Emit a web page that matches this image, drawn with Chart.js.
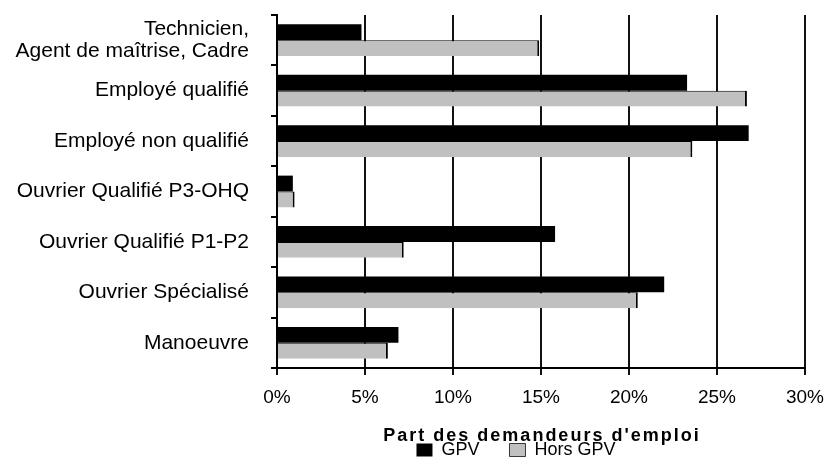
<!DOCTYPE html>
<html lang="fr">
<head>
  <meta charset="UTF-8" />
  <title>Part des demandeurs d'emploi</title>
  <script src="https://cdn.jsdelivr.net/npm/chart.js"></script>
  <style>
    body { margin: 0; background: #fff; }
    .wrap { width: 826px; height: 459px; }
  </style>
</head>
<body>
  <div class="wrap"><canvas id="chart" width="826" height="459"></canvas></div>

  <script>
    const categories = [
      ['Technicien,', 'Agent de maîtrise, Cadre'],
      'Employé qualifié',
      'Employé non qualifié',
      'Ouvrier Qualifié P3-OHQ',
      'Ouvrier Qualifié P1-P2',
      'Ouvrier Spécialisé',
      'Manoeuvre'
    ];
    const gpv = [4.8, 23.3, 26.8, 0.9, 15.8, 22.0, 6.9];
    const horsGpv = [14.9, 26.7, 23.6, 1.0, 7.2, 20.5, 6.3];
    const seriesNames = ['GPV', 'Hors GPV'];
    const axisTitle = "Part des demandeurs d'emploi";

    Chart.defaults.font.family = "'Liberation Sans', Arial, sans-serif";
    Chart.defaults.color = '#000';

    // x axis title drawn with letter spacing, like the original
    const spacedTitle = {
      id: 'spacedTitle',
      afterLayout(chart) {
        // legend sits a bit left of the plot centre in the original
        chart.legend.left -= 25;
        chart.legend.right -= 25;
      },
      afterDraw(chart) {
        const { ctx, chartArea } = chart;
        ctx.save();
        ctx.font = "bold 18px 'Liberation Sans', Arial, sans-serif";
        ctx.fillStyle = '#000';
        ctx.textAlign = 'center';
        ctx.textBaseline = 'alphabetic';
        ctx.letterSpacing = '2px';
        ctx.fillText(axisTitle, (chartArea.left + chartArea.right) / 2 + 1, 441);
        ctx.restore();
      }
    };

    new Chart(document.getElementById('chart'), {
      type: 'bar',
      data: {
        labels: categories,
        datasets: [
          {
            label: seriesNames[0],
            data: gpv,
            backgroundColor: '#000',
            borderWidth: 0
          },
          {
            label: seriesNames[1],
            data: horsGpv,
            backgroundColor: '#c0c0c0',
            borderColor: '#000',
            borderWidth: { top: 1, right: 2, bottom: 0, left: 0 },
            borderSkipped: false
          }
        ]
      },
      options: {
        indexAxis: 'y',
        responsive: false,
        animation: false,
        categoryPercentage: 0.63,
        barPercentage: 1.0,
        layout: { padding: { left: 0, right: 21, top: 15, bottom: -10 } },
        plugins: {
          legend: {
            position: 'bottom',
            fullSize: false,
            labels: {
              boxWidth: 16,
              boxHeight: 13,
              padding: 30,
              font: { size: 18 }
            }
          },
          tooltip: { enabled: false }
        },
        scales: {
          x: {
            min: 0,
            max: 30,
            ticks: {
              stepSize: 5,
              padding: 11,
              font: { size: 19 },
              callback: v => v + '%'
            },
            grid: {
              color: '#111',
              lineWidth: 2,
              tickLength: 7
            },
            border: { color: '#000', width: 2 },
            afterFit(scale) {
              scale.height = 43;
              scale.paddingLeft = 0;
              scale.paddingRight = 0;
            }
          },
          y: {
            ticks: {
              padding: 22,
              font: { size: 21, lineHeight: 1.05 }
            },
            grid: {
              drawOnChartArea: false,
              color: '#000',
              lineWidth: 2,
              tickLength: 6
            },
            border: { color: '#000', width: 2 },
            afterFit(scale) {
              scale.width = 277;
              scale.paddingTop = 0;
              scale.paddingBottom = 0;
            }
          }
        }
      },
      plugins: [spacedTitle]
    });
  </script>
</body>
</html>
